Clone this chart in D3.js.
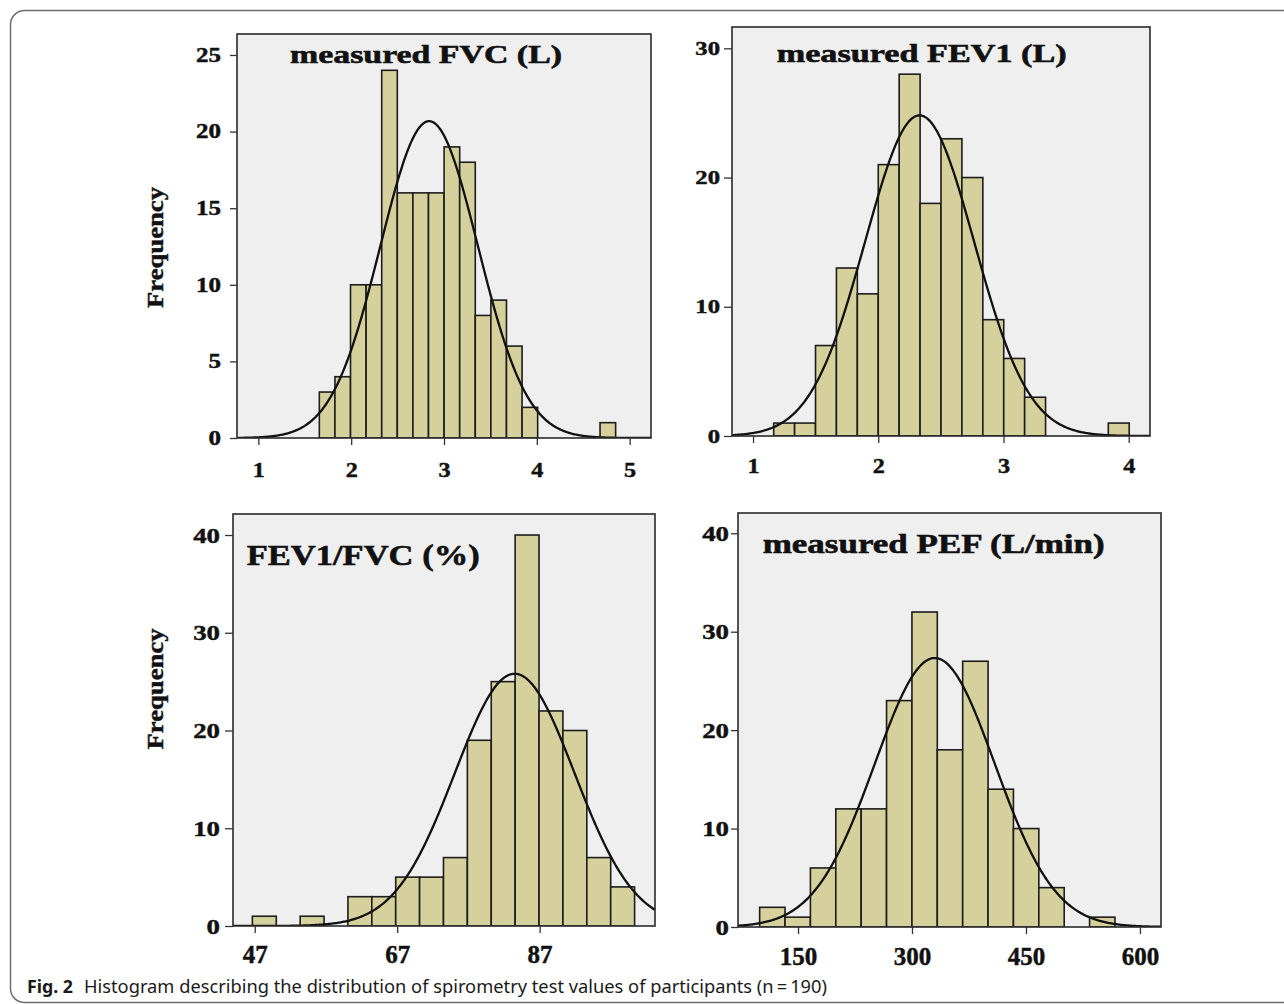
<!DOCTYPE html>
<html>
<head>
<meta charset="utf-8">
<script src="https://cdn.jsdelivr.net/npm/d3@7"></script>
<style>
  body { margin: 0; background: #fff; }
  svg { display: block; }
</style>
</head>
<body>
<svg id="fig" width="1284" height="1004"></svg>
<script>
// ---- Spirometry histograms: bin counts, bin geometry, fitted normal parameters ----

// measured FVC (L)
const fvcTitle = "measured FVC (L)";
const fvcBinStart = 1.657;
const fvcBinWidth = 0.168;
const fvcCounts = [3, 4, 10, 10, 24, 16, 16, 16, 19, 18, 8, 9, 6, 2, 0, 0, 0, 0, 1];
const fvcXTicks = [1, 2, 3, 4, 5];
const fvcYTicks = [0, 5, 10, 15, 20, 25];
const fvcMean = 2.84;
const fvcSd = 0.525;

// measured FEV1 (L)
const fev1Title = "measured FEV1 (L)";
const fev1BinStart = 1.165;
const fev1BinWidth = 0.167;
const fev1Counts = [1, 1, 7, 13, 11, 21, 28, 18, 23, 20, 9, 6, 3, 0, 0, 0, 1];
const fev1XTicks = [1, 2, 3, 4];
const fev1YTicks = [0, 10, 20, 30];
const fev1Mean = 2.33;
const fev1Sd = 0.435;

// FEV1/FVC (%)
const ratioTitle = "FEV1/FVC (%)";
const ratioBinStart = 46.67;
const ratioBinWidth = 3.354;
const ratioCounts = [1, 0, 1, 0, 3, 3, 5, 5, 7, 19, 25, 40, 22, 20, 7, 4];
const ratioXTicks = [47, 67, 87];
const ratioYTicks = [0, 10, 20, 30, 40];
const ratioMean = 83.5;
const ratioSd = 8.4;

// measured PEF (L/min)
const pefTitle = "measured PEF (L/min)";
const pefBinStart = 99.5;
const pefBinWidth = 33.4;
const pefCounts = [2, 1, 6, 12, 12, 23, 32, 18, 27, 14, 10, 4, 0, 1];
const pefXTicks = [150, 300, 450, 600];
const pefYTicks = [0, 10, 20, 30, 40];
const pefMean = 330;
const pefSd = 79;

const yLabel = "Frequency";
const captionBold = "Fig. 2";
const captionText = "Histogram describing the distribution of spirometry test values of participants (n\u2009=\u2009190)";

// ---- layout ----
const SERIF = "'Liberation Serif', 'Times New Roman', serif";
const BAR_FILL = "#d6d19c";
const PLOT_BG = "#efefef";
const INK = "#1c1c1c";

const panels = [
  {
    id: "fvc", binStart: fvcBinStart, binWidth: fvcBinWidth, counts: fvcCounts,
    xTicks: fvcXTicks, yTicks: fvcYTicks, mean: fvcMean, sd: fvcSd,
    box: { x0: 237, x1: 651, y0: 34, y1: 438 },
    xDomain: [0.77, 5.23], yDomain: [0, 26.37],
    title: { text: fvcTitle, x: 290, y: 62.5, size: 26, len: 272 },
    yTick: { size: 7, pad: 9, font: 20, sx: 1.25 },
    xTick: { size: 7, pad: 32, font: 21, sx: 1.15 },
    freqY: 247.5
  },
  {
    id: "fev1", binStart: fev1BinStart, binWidth: fev1BinWidth, counts: fev1Counts,
    xTicks: fev1XTicks, yTicks: fev1YTicks, mean: fev1Mean, sd: fev1Sd,
    box: { x0: 732, x1: 1150, y0: 27, y1: 436 },
    xDomain: [0.832, 4.17], yDomain: [0, 31.65],
    title: { text: fev1Title, x: 776.7, y: 61.7, size: 25.5, len: 290 },
    yTick: { size: 8, pad: 4, font: 19, sx: 1.3 },
    xTick: { size: 7, pad: 30, font: 21, sx: 1.15 },
    freqY: null
  },
  {
    id: "ratio", binStart: ratioBinStart, binWidth: ratioBinWidth, counts: ratioCounts,
    xTicks: ratioXTicks, yTicks: ratioYTicks, mean: ratioMean, sd: ratioSd,
    box: { x0: 233, x1: 655, y0: 514, y1: 926 },
    xDomain: [43.95, 103.2], yDomain: [0, 42.15],
    title: { text: ratioTitle, x: 246.7, y: 565, size: 30, len: 233 },
    yTick: { size: 8, pad: 5, font: 22, sx: 1.22 },
    xTick: { size: 7, pad: 30, font: 25, sx: 1.0 },
    freqY: 689
  },
  {
    id: "pef", binStart: pefBinStart, binWidth: pefBinWidth, counts: pefCounts,
    xTicks: pefXTicks, yTicks: pefYTicks, mean: pefMean, sd: pefSd,
    box: { x0: 738, x1: 1161, y0: 513, y1: 927 },
    xDomain: [71, 627.7], yDomain: [0, 42.06],
    title: { text: pefTitle, x: 762.7, y: 553, size: 27.7, len: 342 },
    yTick: { size: 7, pad: 2, font: 22, sx: 1.22 },
    xTick: { size: 7, pad: 31, font: 25, sx: 1.0 },
    freqY: null
  }
];

const svg = d3.select("#fig");

// outer rounded frame of the figure
svg.append("rect")
  .attr("x", 10.5).attr("y", 10.5)
  .attr("width", 1300).attr("height", 992)
  .attr("rx", 14).attr("ry", 14)
  .attr("fill", "none").attr("stroke", "#6f6f6f").attr("stroke-width", 1.5);

// stretch a text node horizontally to a multiple of its natural width
function stretch(sel, sx) {
  sel.each(function () {
    const w = this.getComputedTextLength();
    d3.select(this).attr("textLength", w * sx).attr("lengthAdjust", "spacingAndGlyphs");
  });
}

// heavy serif lettering used for titles and tick labels
function heavy(sel, size) {
  sel.attr("font-family", SERIF).attr("font-weight", "bold")
    .attr("font-size", size).attr("fill", "#111")
    .attr("stroke", "#111").attr("stroke-width", 0.45);
}

function drawPanel(p) {
  const g = svg.append("g").attr("class", "panel-" + p.id);
  const b = p.box;
  const x = d3.scaleLinear().domain(p.xDomain).range([b.x0, b.x1]);
  const y = d3.scaleLinear().domain(p.yDomain).range([b.y1, b.y0]);

  g.append("clipPath").attr("id", "clip-" + p.id)
    .append("rect").attr("x", b.x0).attr("y", b.y0)
    .attr("width", b.x1 - b.x0).attr("height", b.y1 - b.y0);

  g.append("rect")
    .attr("x", b.x0).attr("y", b.y0)
    .attr("width", b.x1 - b.x0).attr("height", b.y1 - b.y0)
    .attr("fill", PLOT_BG);

  // histogram bars
  const bins = p.counts
    .map((c, i) => ({ x0: p.binStart + i * p.binWidth, x1: p.binStart + (i + 1) * p.binWidth, n: c }))
    .filter(d => d.n > 0);

  g.append("g").attr("clip-path", `url(#clip-${p.id})`)
    .selectAll("rect")
    .data(bins)
    .join("rect")
    .attr("x", d => x(d.x0))
    .attr("width", d => x(d.x1) - x(d.x0))
    .attr("y", d => y(d.n))
    .attr("height", d => y(0) - y(d.n))
    .attr("fill", BAR_FILL)
    .attr("stroke", INK)
    .attr("stroke-width", 1.6);

  // fitted normal curve scaled to counts
  const n = d3.sum(p.counts);
  const peak = n * p.binWidth / (p.sd * Math.sqrt(2 * Math.PI));
  const density = v => peak * Math.exp(-0.5 * Math.pow((v - p.mean) / p.sd, 2));
  const steps = 400;
  const xs = d3.range(steps + 1).map(i => p.xDomain[0] + (p.xDomain[1] - p.xDomain[0]) * i / steps);
  g.append("path")
    .attr("clip-path", `url(#clip-${p.id})`)
    .datum(xs)
    .attr("d", d3.line().x(v => x(v)).y(v => y(density(v))))
    .attr("fill", "none")
    .attr("stroke", "#111")
    .attr("stroke-width", 2.3);

  // plot frame
  g.append("rect")
    .attr("x", b.x0).attr("y", b.y0)
    .attr("width", b.x1 - b.x0).attr("height", b.y1 - b.y0)
    .attr("fill", "none").attr("stroke", "#2a2a2a").attr("stroke-width", 1.6);

  // y axis
  const ya = g.append("g")
    .attr("transform", `translate(${b.x0},0)`)
    .call(d3.axisLeft(y).tickValues(p.yTicks).tickFormat(d3.format("d"))
      .tickSize(p.yTick.size).tickPadding(p.yTick.pad));
  ya.select(".domain").remove();
  ya.selectAll(".tick line").attr("stroke", "#333").attr("stroke-width", 1.3);
  ya.selectAll(".tick text")
    .call(heavy, p.yTick.font)
    .call(stretch, p.yTick.sx);

  // x axis
  const xa = g.append("g")
    .attr("transform", `translate(0,${b.y1})`)
    .call(d3.axisBottom(x).tickValues(p.xTicks).tickFormat(d3.format("d"))
      .tickSize(p.xTick.size).tickPadding(p.xTick.pad));
  xa.select(".domain").remove();
  xa.selectAll(".tick line").attr("stroke", "#333").attr("stroke-width", 1.3);
  xa.selectAll(".tick text")
    .call(heavy, p.xTick.font)
    .attr("dy", "0")
    .call(stretch, p.xTick.sx);

  // panel title
  g.append("text")
    .attr("x", p.title.x).attr("y", p.title.y)
    .call(heavy, p.title.size)
    .attr("stroke-width", 0.6)
    .attr("textLength", p.title.len).attr("lengthAdjust", "spacingAndGlyphs")
    .text(p.title.text);

  // y-axis caption on the left column
  if (p.freqY !== null) {
    g.append("text")
      .attr("transform", `translate(163,${p.freqY}) rotate(-90)`)
      .attr("text-anchor", "middle")
      .call(heavy, 24)
      .attr("textLength", 121).attr("lengthAdjust", "spacingAndGlyphs")
      .text(yLabel);
  }
}

panels.forEach(drawPanel);

// figure caption
svg.append("text")
  .attr("x", 27).attr("y", 993)
  .attr("font-family", "'Noto Sans', 'Open Sans', sans-serif")
  .attr("font-weight", "bold").attr("font-size", 18).attr("fill", "#1a1a1a")
  .attr("textLength", 46).attr("lengthAdjust", "spacingAndGlyphs")
  .text(captionBold);
svg.append("text")
  .attr("x", 84).attr("y", 993)
  .attr("font-family", "'Noto Sans', 'Open Sans', sans-serif")
  .attr("font-size", 18).attr("fill", "#1a1a1a")
  .attr("textLength", 743).attr("lengthAdjust", "spacingAndGlyphs")
  .text(captionText);
</script>
</body>
</html>
